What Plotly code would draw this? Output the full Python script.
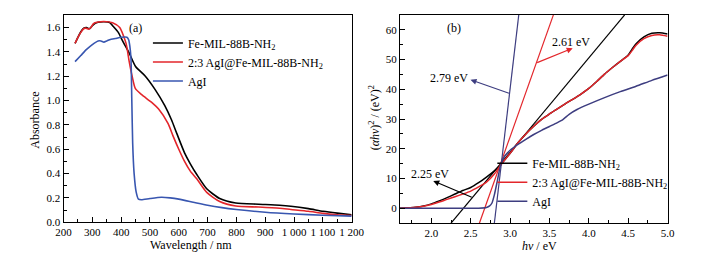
import plotly.graph_objects as go

# ---------- Panel (a): UV-vis absorbance ----------
wl_fe = [240, 250, 260, 270, 280, 290, 300, 310, 320, 340, 360, 372, 390, 405, 428, 450, 484,
         518, 551, 575, 593, 620, 640, 663, 697, 742, 798, 877, 950, 989, 1050, 1101, 1150, 1200]
abs_fe = [1.47, 1.52, 1.565, 1.595, 1.60, 1.59, 1.615, 1.635, 1.643, 1.647, 1.642, 1.61, 1.56, 1.49,
          1.39, 1.28, 1.20, 1.09, 0.96, 0.84, 0.73, 0.57, 0.48, 0.39, 0.275, 0.195, 0.158, 0.148,
          0.140, 0.132, 0.112, 0.090, 0.075, 0.062]

wl_comp = [240, 250, 260, 270, 276, 287, 295, 304, 320, 340, 370, 395, 417, 428, 439, 449, 470,
           506, 530, 563, 580, 600, 620, 640, 663, 697, 742, 798, 877, 950, 989, 1050, 1101, 1150, 1200]
abs_comp = [1.47, 1.52, 1.56, 1.59, 1.595, 1.587, 1.60, 1.633, 1.645, 1.65, 1.64, 1.60, 1.47, 1.32,
            1.19, 1.10, 1.05, 0.985, 0.93, 0.81, 0.71, 0.60, 0.50, 0.42, 0.355, 0.245, 0.17, 0.133,
            0.125, 0.115, 0.105, 0.09, 0.073, 0.062, 0.055]

wl_agi = [240, 260, 280, 300, 320, 330, 340, 350, 360, 380, 400, 420, 426, 430, 434, 437, 440,
          445, 452, 460, 470, 500, 540, 570, 600, 650, 700, 750, 800, 900, 1000, 1100, 1200]
abs_agi = [1.32, 1.37, 1.42, 1.46, 1.49, 1.49, 1.48, 1.49, 1.50, 1.51, 1.52, 1.52, 1.50, 1.45,
           1.35, 1.0, 0.65, 0.40, 0.25, 0.19, 0.185, 0.195, 0.205, 0.20, 0.19, 0.165, 0.14,
           0.12, 0.105, 0.082, 0.068, 0.058, 0.05]

wl_ticks = [200, 300, 400, 500, 600, 700, 800, 900, 1000, 1100, 1200]
wl_ticktext = ["200", "300", "400", "500", "600", "700", "800", "900", "1 000", "1 100", "1 200"]
abs_ticks = [0.0, 0.2, 0.4, 0.6, 0.8, 1.0, 1.2, 1.4, 1.6]

# ---------- Panel (b): Tauc plot ----------
ev_fe = [1.6, 1.8, 1.9, 2.0, 2.1, 2.2, 2.3, 2.4, 2.5, 2.6, 2.7, 2.8, 2.88, 3.0, 3.1, 3.2, 3.3, 3.4,
         3.5, 3.6, 3.7, 3.8, 3.9, 4.0, 4.1, 4.2, 4.3, 4.4, 4.5, 4.55, 4.6, 4.7, 4.8, 4.9, 5.0]
tauc_fe = [0.0, 0.4, 0.8, 1.5, 2.5, 3.6, 4.8, 6.0, 7.0, 8.6, 10.5, 12.6, 14.6, 18.5, 22.0, 25.0,
           27.6, 29.9, 31.7, 33.4, 35.1, 36.7, 38.4, 40.3, 42.6, 45.1, 47.3, 49.4, 51.5, 53.5,
           55.3, 57.6, 58.8, 59.0, 58.6]

ev_comp = [1.6, 1.8, 1.9, 2.0, 2.1, 2.2, 2.3, 2.4, 2.5, 2.6, 2.7, 2.8, 2.88, 3.0, 3.1, 3.2, 3.3, 3.4,
           3.5, 3.6, 3.7, 3.8, 3.9, 4.0, 4.1, 4.2, 4.3, 4.4, 4.5, 4.55, 4.6, 4.7, 4.8, 4.9, 5.0]
tauc_comp = [0.0, 0.4, 0.7, 1.3, 2.1, 3.0, 3.9, 4.8, 5.8, 7.2, 8.8, 11.5, 14.6, 18.5, 22.0, 25.0,
             27.6, 29.9, 31.7, 33.4, 35.1, 36.7, 38.4, 40.3, 42.6, 45.1, 47.3, 49.4, 51.3, 53.0,
             54.8, 57.0, 58.1, 58.3, 57.8]

ev_agi = [1.6, 2.0, 2.4, 2.6, 2.7, 2.74, 2.77, 2.8, 2.84, 2.88, 2.93, 3.0, 3.1, 3.2, 3.3, 3.4, 3.5,
          3.6, 3.67, 3.75, 3.85, 4.0, 4.2, 4.4, 4.6, 4.8, 5.0]
tauc_agi = [0.0, 0.0, 0.0, 0.05, 0.3, 0.8, 1.8, 4.5, 9.5, 14.6, 17.5, 19.5, 21.5, 23.2, 24.8, 26.2,
            27.5, 28.8, 29.8, 31.6, 33.2, 35.0, 37.2, 39.2, 41.0, 43.0, 44.8]

# tangent lines (endpoints)
tan_fe_ev, tan_fe_y = [2.25, 4.455], [-5, 65]
tan_comp_ev, tan_comp_y = [2.61, 3.55], [-5, 65]
tan_agi_ev, tan_agi_y = [2.80, 3.11], [-5, 65]

ev_ticks = [2.0, 2.5, 3.0, 3.5, 4.0, 4.5, 5.0]
tauc_ticks = [0, 10, 20, 30, 40, 50, 60]

names = ["Fe-MIL-88B-NH<sub>2</sub>", "2:3 AgI@Fe-MIL-88B-NH<sub>2</sub>", "AgI"]
BLACK, RED, BLUE, NAVY = "#000000", "#e3262b", "#3856b0", "#3d3d80"
FONT = "Liberation Serif"

fig = go.Figure()

# panel a
for x, y, c, n in [(wl_fe, abs_fe, BLACK, names[0]), (wl_comp, abs_comp, RED, names[1]),
                   (wl_agi, abs_agi, BLUE, names[2])]:
    fig.add_trace(go.Scatter(x=x, y=y, mode="lines", name=n, line=dict(color=c, width=1.6, shape="spline", smoothing=0.6),
                             xaxis="x", yaxis="y", legend="legend"))

# panel b tangents (not in legend)
for x, y, c in [(tan_fe_ev, tan_fe_y, BLACK), (tan_comp_ev, tan_comp_y, RED), (tan_agi_ev, tan_agi_y, NAVY)]:
    fig.add_trace(go.Scatter(x=x, y=y, mode="lines", showlegend=False, line=dict(color=c, width=1.2),
                             xaxis="x2", yaxis="y2"))

for x, y, c, n in [(ev_fe, tauc_fe, BLACK, names[0]), (ev_comp, tauc_comp, RED, names[1]),
                   (ev_agi, tauc_agi, NAVY, names[2])]:
    fig.add_trace(go.Scatter(x=x, y=y, mode="lines", name=n, line=dict(color=c, width=1.5, shape="spline", smoothing=0.6),
                             xaxis="x2", yaxis="y2", legend="legend2"))

axis_common = dict(showline=True, linecolor="black", linewidth=1, mirror=True, ticks="inside",
                   ticklen=5, tickwidth=1, tickcolor="black", showgrid=False, zeroline=False,
                   tickfont=dict(family=FONT, size=11, color="black"))

fig.update_layout(
    width=701, height=260, margin=dict(l=0, r=0, t=0, b=0),
    paper_bgcolor="white", plot_bgcolor="white",
    font=dict(family=FONT, size=12, color="black"),
    hovermode=False,
    xaxis=dict(domain=[0.0699, 0.4936], range=[200, 1200], tickvals=wl_ticks, ticktext=wl_ticktext,
               minor=dict(dtick=50, ticks="inside", ticklen=3, tickcolor="black"), anchor="y", **axis_common),
    yaxis=dict(domain=[0.1565, 0.971], range=[0, 1.7], tickvals=abs_ticks, tickformat=".1f",
               minor=dict(dtick=0.1, ticks="inside", ticklen=3, tickcolor="black"), anchor="x", **axis_common),
    xaxis2=dict(domain=[0.5645, 0.9582], range=[1.6, 5.0], tickvals=ev_ticks, tickformat=".1f",
                minor=dict(tick0=1.75, dtick=0.25, ticks="inside", ticklen=3, tickcolor="black"), anchor="y2", **axis_common),
    yaxis2=dict(domain=[0.1527, 0.973], range=[-5, 65], tickvals=tauc_ticks,
                minor=dict(tick0=-5, dtick=5, ticks="inside", ticklen=3, tickcolor="black"), anchor="x2", **axis_common),
    legend=dict(x=0.194, y=0.919, xanchor="left", yanchor="top", bgcolor="rgba(0,0,0,0)",
                font=dict(family=FONT, size=12), tracegroupgap=0, itemwidth=30),
    legend2=dict(x=0.7005, y=0.446, xanchor="left", yanchor="top", bgcolor="rgba(0,0,0,0)",
                 font=dict(family=FONT, size=12), tracegroupgap=0, itemwidth=30),
)

def paper_text(text, px, py, angle=0):
    return dict(text=text, x=px / 701, y=1 - py / 260, xref="paper", yref="paper",
                xanchor="center", yanchor="middle", textangle=angle, showarrow=False,
                font=dict(family=FONT, size=12, color="black"))

ann = []
# axis titles
ann.append(paper_text("Absorbance", 20, 115, -90))
ann.append(paper_text("Wavelength / nm", 180, 243))
ann.append(paper_text("(<i>αhν</i>)<sup>2</sup> / (eV)<sup>2</sup>", 369, 112, -90))
ann.append(paper_text("<i>hν</i> / eV", 540, 244))
# panel labels
ann.append(paper_text("(a)", 123, 20))
ann.append(paper_text("(b)", 452, 20))
# gap labels
for t, ex, ey in [("2.61 eV", 3.77, 55.9), ("2.79 eV", 2.23, 43.9), ("2.25 eV", 1.98, 11.6)]:
    ann.append(dict(text=t, x=ex, y=ey, xref="x2", yref="y2", xanchor="center", yanchor="middle",
                    showarrow=False, font=dict(family=FONT, size=12, color="black")))
# arrows
ann.append(dict(text="", x=3.795, y=53.8, xref="x2", yref="y2", ax=-37, ay=15, showarrow=True,
                arrowhead=2, arrowsize=1, arrowwidth=1.2, arrowcolor=RED))
ann.append(dict(text="", x=2.497, y=43.2, xref="x2", yref="y2", ax=40, ay=14, showarrow=True,
                arrowhead=2, arrowsize=1, arrowwidth=1.2, arrowcolor=NAVY))
ann.append(dict(text="", x=2.024, y=9.2, xref="x2", yref="y2", ax=40, ay=17, showarrow=True,
                arrowhead=2, arrowsize=1, arrowwidth=1.2, arrowcolor=BLACK))
fig.update_layout(annotations=ann)

fig.write_html("out.html")
